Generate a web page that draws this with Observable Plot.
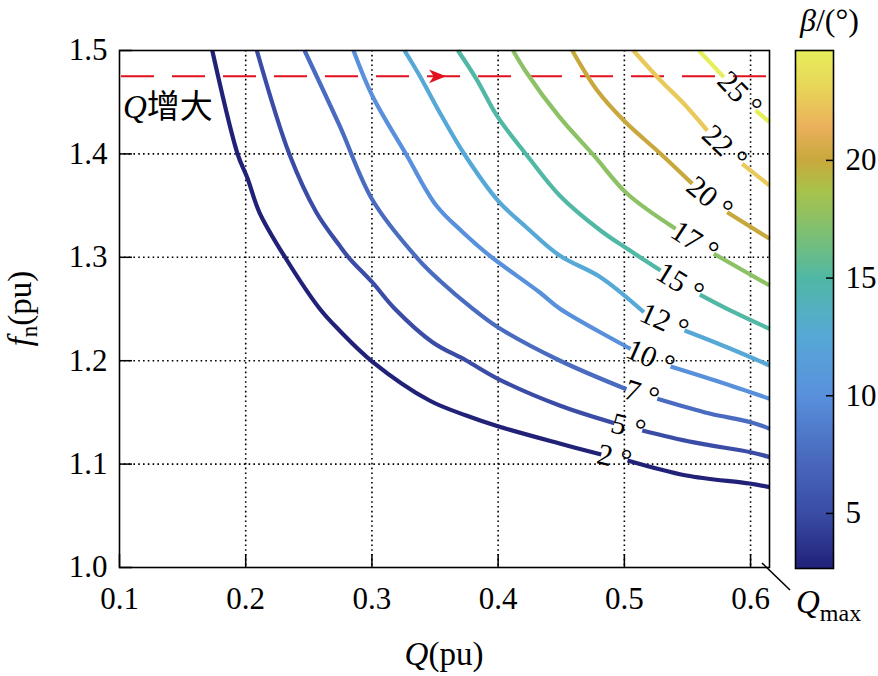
<!DOCTYPE html>
<html>
<head>
<meta charset="utf-8">
<script src="https://cdn.jsdelivr.net/npm/d3@7"></script>
<script src="https://cdn.jsdelivr.net/npm/@observablehq/plot@0.6"></script>
<style>
  html, body { margin: 0; padding: 0; background: #fff; }
  #wrap { position: relative; width: 878px; height: 676px; overflow: hidden; }
  #wrap svg { position: absolute; overflow: visible; }
</style>
</head>
<body>
<div id="wrap"></div>
<script>
// ---------------- data ----------------
const Qmin = 0.1, Qmax = 0.615;
const fMin = 1.0, fMax = 1.5;
const xTicks = [0.1, 0.2, 0.3, 0.4, 0.5, 0.6];
const yTicks = [1.0, 1.1, 1.2, 1.3, 1.4, 1.5];
const gridQ = [0.2, 0.3, 0.4, 0.5, 0.6];
const gridF = [1.1, 1.2, 1.3, 1.4];

const levels = [2.5, 5, 7.5, 10, 12.5, 15, 17.5, 20, 22.5, 25];
const levelLabels = ["2", "5", "7", "10", "12", "15", "17", "20", "22", "25"];

// contour lines (Q, fn); null marks the gap where the in-line label sits
const c2 = [[0.1735,1.5],[0.1937,1.3994],[0.2014,1.3764],[0.2109,1.3433],[0.2313,1.2998],[0.2585,1.2505],[0.2743,1.2292],[0.3002,1.1992],[0.3456,1.1615],[0.3747,1.1470],[0.3998,1.1366],[0.4487,1.1199],[0.4817,1.1093],null,[0.5025,1.1035],[0.5491,1.0890],[0.5992,1.0812],[0.6151,1.0777]];
const c5 = [[0.2088,1.5],[0.2347,1.3994],[0.2559,1.3436],[0.2743,1.3114],[0.2823,1.2988],[0.3002,1.2759],[0.3179,1.2505],[0.3480,1.2179],[0.3747,1.2002],[0.3998,1.1825],[0.4487,1.1567],[0.4922,1.1396],null,[0.5142,1.1325],[0.5541,1.1212],[0.6001,1.1115],[0.6151,1.1067]];
const c7 = [[0.2466,1.5],[0.2743,1.4275],[0.3007,1.3549],[0.3364,1.2985],[0.3536,1.2776],[0.3800,1.2502],[0.3998,1.2324],[0.4487,1.2002],[0.5017,1.1724],null,[0.5261,1.1632],[0.5675,1.1489],[0.6001,1.1405],[0.6151,1.1341]];
const c10 = [[0.2854,1.5],[0.3002,1.4565],[0.3272,1.3994],[0.3510,1.3501],[0.3720,1.3243],[0.3932,1.3017],[0.4328,1.2662],[0.4487,1.2505],[0.5049,1.2115],null,[0.5366,1.1944],[0.5762,1.1792],[0.6151,1.1632]];
const c12 = [[0.3258,1.5],[0.3377,1.4758],[0.3536,1.4403],[0.3734,1.3994],[0.3998,1.3549],[0.4223,1.3291],[0.4487,1.3017],[0.4811,1.2808],[0.5155,1.2469],null,[0.5477,1.2292],[0.5818,1.2128],[0.6151,1.1954]];
const c15 = [[0.3681,1.5],[0.3827,1.4726],[0.3998,1.4355],[0.4223,1.3994],[0.4487,1.3598],[0.4811,1.3259],[0.5023,1.3082],[0.5287,1.2872],null,[0.5598,1.2640],[0.5868,1.2469],[0.6151,1.2308]];
const c17 = [[0.4118,1.5],[0.4223,1.4790],[0.4487,1.4355],[0.4758,1.3985],[0.5023,1.3614],[0.5406,1.3276],null,[0.5709,1.3034],[0.6151,1.2727]];
const c20 = [[0.4587,1.5],[0.4785,1.4613],[0.4996,1.4323],[0.5287,1.4001],[0.5538,1.3711],null,[0.5815,1.3436],[0.6151,1.3179]];
const c22 = [[0.5071,1.5],[0.5287,1.4710],[0.5472,1.4485],[0.5657,1.4226],null,[0.5934,1.3904],[0.6151,1.3694]];
const c25 = [[0.5590,1.5],[0.5788,1.4742],null,[0.6040,1.4420],[0.6151,1.4307]];
const curves = [c2, c5, c7, c10, c12, c15, c17, c20, c22, c25];

// reference operating line (dashed red) and arrow
const fRef = 1.475;
const arrowQ = 0.352;

// colour bar
const cMin = 2.66, cMax = 24.67;
const cbTicks = [5, 10, 15, 20];
const cStops  = [2.66, 5, 7.5, 10, 12.5, 15, 17, 18.7, 20, 21.4, 23, 24.67];
const cColors = ["#212178", "#3a4ca6", "#4a6cc0", "#5890dc", "#56a8d6", "#50b8a4", "#80c070", "#a8c24a", "#c8a83c", "#eab05c", "#e8d458", "#e6ee5a"];

// ---------------- pick an installed serif face ----------------
function pickFont(cands) {
  const ctx = document.createElement("canvas").getContext("2d");
  const probe = "0.123456789 Qpumax WMfn";
  const widthFor = f => { ctx.font = `40px ${f}`; return ctx.measureText(probe).width; };
  for (const c of cands) {
    for (const base of ["monospace", "sans-serif"]) {
      if (Math.abs(widthFor(`"${c}", ${base}`) - widthFor(base)) > 0.5) return `"${c}"`;
    }
  }
  return null;
}
const serifFace = pickFont(["Liberation Serif", "Times New Roman", "Tinos", "DejaVu Serif", "Noto Serif", "FreeSerif", "Nimbus Roman", "Times"]);
const serif = (serifFace ? serifFace + ", " : "") + "serif";

// ---------------- build tables ----------------
const rows = [];
curves.forEach((pts, k) => {
  pts.forEach(p => {
    rows.push(p ? {Q: p[0], f: p[1], level: levels[k], curve: k}
                : {Q: NaN, f: NaN, level: levels[k], curve: k});
  });
});

const W = 878, H = 676;
const mT = 50, mR = 109, mB = 109, mL = 119;
const xs = d3.scaleLinear([Qmin, Qmax], [mL, W - mR]);
const ys = d3.scaleLinear([fMin, fMax], [H - mB, mT]);

const labels = curves.map((pts, k) => {
  const g = pts.indexOf(null);
  const a = pts[g - 1], b = pts[g + 1];
  const ax = xs(a[0]), ay = ys(a[1]), bx = xs(b[0]), by = ys(b[1]);
  const mx = (ax + bx) / 2, my = (ay + by) / 2;
  const ang = Math.atan2(by - ay, bx - ax) * 180 / Math.PI;
  return {Q: xs.invert(mx), f: ys.invert(my), angle: ang, text: levelLabels[k] + " °"};
});

const colorScale = {type: "linear", domain: cStops, range: cColors, clamp: true};

const arrowSymbol = {
  draw(ctx, size) {
    const s = Math.sqrt(size / Math.PI);
    ctx.moveTo(s, 0);
    ctx.lineTo(-s, -0.82 * s);
    ctx.lineTo(-0.45 * s, 0);
    ctx.lineTo(-s, 0.82 * s);
    ctx.closePath();
  }
};

const red = "#e2101c";

const main = Plot.plot({
  width: W, height: H,
  marginTop: mT, marginRight: mR, marginBottom: mB, marginLeft: mL,
  style: {fontFamily: serif, fontSize: "31px", color: "black", background: "transparent", overflow: "visible"},
  x: {domain: [Qmin, Qmax]},
  y: {domain: [fMin, fMax]},
  color: colorScale,
  marks: [
    Plot.gridX(gridQ, {stroke: "black", strokeOpacity: 1, strokeWidth: 1.6, strokeDasharray: "1.6,3.2"}),
    Plot.gridY(gridF, {stroke: "black", strokeOpacity: 1, strokeWidth: 1.6, strokeDasharray: "1.6,3.2"}),
    Plot.ruleY([fRef], {stroke: red, strokeWidth: 2, strokeDasharray: "33,18", strokeDashoffset: -2}),
    Plot.dot([{Q: arrowQ, f: fRef}], {x: "Q", y: "f", symbol: arrowSymbol, r: 8.5, fill: red, stroke: "none"}),
    Plot.line(rows, {x: "Q", y: "f", z: "curve", stroke: "level", strokeWidth: 4.2, strokeLinejoin: "round", strokeLinecap: "butt", curve: "catmull-rom"}),
    Plot.text(labels, {x: "Q", y: "f", text: "text", rotate: "angle", fontSize: 30, fontFamily: serif, fill: "black", textAnchor: "middle", lineAnchor: "middle"}),
    Plot.axisX({ticks: xTicks, tickFormat: d => d.toFixed(1), tickSize: -13, tickPadding: 32, label: null, strokeWidth: 1.5, fontFamily: serif}),
    Plot.axisY({ticks: yTicks, tickFormat: d => d.toFixed(1), tickSize: -13, tickPadding: 25, label: null, strokeWidth: 1.5, fontFamily: serif}),
    Plot.frame({stroke: "black", strokeWidth: 1.6})
  ]
});
main.style.left = "0px"; main.style.top = "0px";

// colour bar drawn from the same colour scale
const nSteps = 220;
const steps = d3.range(nSteps).map(i => [cMin + (cMax - cMin) * i / nSteps, cMin + (cMax - cMin) * (i + 1.05) / nSteps]);
const cbLeft = 795, cbW = 38;
const cbar = Plot.plot({
  width: cbW + 45, height: H,
  marginTop: 50, marginBottom: H - 568, marginLeft: 0, marginRight: 45,
  style: {fontFamily: serif, fontSize: "31px", color: "black", background: "transparent", overflow: "visible"},
  x: {domain: [0, 1], axis: null},
  y: {domain: [cMin, cMax]},
  color: colorScale,
  marks: [
    Plot.rect(steps, {x1: 0, x2: 1, y1: d => d[0], y2: d => d[1], fill: d => (d[0] + d[1]) / 2, shapeRendering: "crispEdges"}),
    Plot.axisY({anchor: "right", ticks: cbTicks, tickSize: -8, tickPadding: 20, label: null, strokeWidth: 1.5, fontFamily: serif}),
    Plot.frame({stroke: "black", strokeWidth: 1.6})
  ]
});
cbar.style.left = cbLeft + "px"; cbar.style.top = "0px";

const wrap = document.getElementById("wrap");
wrap.appendChild(main);
wrap.appendChild(cbar);

// ---------------- annotations (titles) ----------------
const sx = main.scale("x"), sy = main.scale("y");
const ov = d3.select(wrap).append("svg")
  .attr("width", W).attr("height", H)
  .style("left", "0px").style("top", "0px")
  .attr("font-family", serif).style("fill", "black");

// x label
const px = (sx.apply(Qmin) + sx.apply(Qmax)) / 2;
const tx = ov.append("text").attr("x", px).attr("y", 665).attr("text-anchor", "middle").attr("font-size", 33);
tx.append("tspan").attr("font-style", "italic").text("Q");
tx.append("tspan").text("(pu)");

// y label
const py = (sy.apply(fMin) + sy.apply(fMax)) / 2;
const ty = ov.append("text").attr("transform", `translate(31,${py}) rotate(-90)`).attr("text-anchor", "middle").attr("font-size", 33);
ty.append("tspan").attr("font-style", "italic").text("f");
ty.append("tspan").attr("dy", 6).attr("font-size", 23).text("n");
ty.append("tspan").attr("dy", -6).text("(pu)");

// colour bar title
const tb = ov.append("text").attr("x", 800).attr("y", 31).attr("font-size", 32);
tb.append("tspan").attr("font-style", "italic").text("β");
tb.append("tspan").text("/(°)");

// Q增大
const tq = ov.append("text").attr("x", 123).attr("y", 118).attr("font-size", 33);
tq.append("tspan").attr("font-style", "italic").text("Q");
tq.append("tspan").attr("font-family", "Noto Sans CJK SC, sans-serif").attr("font-size", 33).text("增大");

// Q_max pointer
const cx = sx.apply(Qmax), cy = sy.apply(fMin);
ov.append("line").attr("x1", cx - 7).attr("y1", cy - 4).attr("x2", cx + 21).attr("y2", cy + 23)
  .attr("stroke", "black").attr("stroke-width", 1.6);
const tm = ov.append("text").attr("x", 796).attr("y", 613).attr("font-size", 33);
tm.append("tspan").attr("font-style", "italic").text("Q");
tm.append("tspan").attr("dy", 8).attr("font-size", 24).text("max");
</script>
</body>
</html>
